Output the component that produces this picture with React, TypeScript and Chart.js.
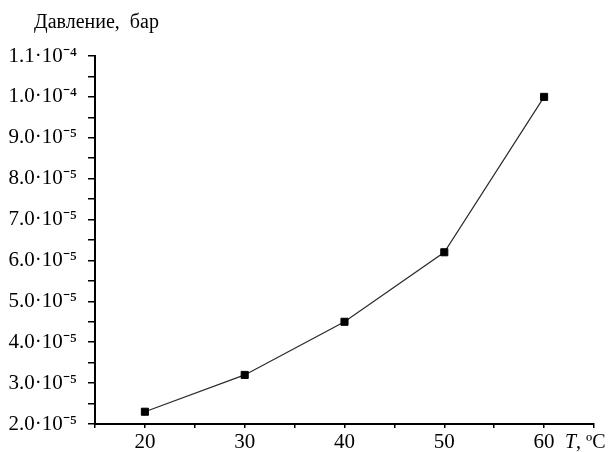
import React, { useEffect, useRef } from "react";
import { Chart, registerables } from "chart.js";

Chart.register(...registerables);

// Data
const temperatures = [20, 30, 40, 50, 60];
const pressures = [2.3e-5, 3.2e-5, 4.5e-5, 6.2e-5, 1.0e-4];

// Axis settings
const xMin = 15;
const xMax = 65;
const xStep = 5;
const xMajorStep = 10;
const yMin = 2e-5;
const yMax = 1.1e-4;
const yStep = 5e-6;
const yMajorStep = 1e-5;
const yTickLabels = [
  "2.0·10⁻⁵",
  "3.0·10⁻⁵",
  "4.0·10⁻⁵",
  "5.0·10⁻⁵",
  "6.0·10⁻⁵",
  "7.0·10⁻⁵",
  "8.0·10⁻⁵",
  "9.0·10⁻⁵",
  "1.0·10⁻⁴",
  "1.1·10⁻⁴",
];
const yAxisTitle = "Давление,  бар";
const xAxisTitleItalic = "T";
const xAxisTitleRest = ", ºC";

const FONT = '"Liberation Serif", "Times New Roman", serif';

const axisTextPlugin = {
  id: "axisText",
  afterDraw(chart: any) {
    const { ctx } = chart;
    const x = chart.scales.x;
    ctx.save();
    ctx.fillStyle = "#000";
    ctx.textBaseline = "alphabetic";
    ctx.textAlign = "left";
    ctx.font = `20px ${FONT}`;
    ctx.fillText(yAxisTitle, 34, 28);
    const baseY = x.top + 24;
    let tx = x.right - 29;
    ctx.font = `italic 20px ${FONT}`;
    ctx.fillText(xAxisTitleItalic, tx, baseY);
    tx += ctx.measureText(xAxisTitleItalic).width;
    ctx.font = `20px ${FONT}`;
    ctx.fillText(xAxisTitleRest, tx, baseY);
    ctx.restore();
  },
};

export default function App() {
  const canvasRef = useRef<HTMLCanvasElement | null>(null);

  useEffect(() => {
    const canvas = canvasRef.current;
    if (!canvas) return;
    const chart = new Chart(canvas, {
      type: "scatter",
      data: {
        datasets: [
          {
            data: temperatures.map((t, i) => ({ x: t, y: pressures[i] })),
            showLine: true,
            borderColor: "#2a2a2a",
            borderWidth: 1.2,
            pointStyle: "rect",
            pointRadius: 5,
            pointBackgroundColor: "#000",
            pointBorderColor: "#000",
            pointBorderWidth: 1,
            tension: 0,
          },
        ],
      },
      options: {
        animation: false,
        responsive: false,
        layout: { padding: { left: 0, top: 56, right: 20, bottom: 0 } },
        plugins: {
          legend: { display: false },
          title: { display: false },
          tooltip: { enabled: false },
        },
        scales: {
          x: {
            type: "linear",
            min: xMin,
            max: xMax,
            afterFit: (scale: any) => {
              scale.height = 28;
            },
            border: { display: true, color: "#000", width: 2 },
            grid: {
              drawOnChartArea: false,
              drawTicks: true,
              tickLength: 4,
              color: "#000",
              lineWidth: 1.5,
            },
            ticks: {
              stepSize: xStep,
              autoSkip: false,
              maxRotation: 0,
              padding: 2,
              color: "#000",
              font: { family: FONT, size: 21 },
              callback: (v: any) => {
                const val = Number(v);
                if (val === xMin) return "";
                return Math.abs(val % xMajorStep) < 1e-9 ? String(val) : "";
              },
            },
          },
          y: {
            type: "linear",
            min: yMin,
            max: yMax,
            afterFit: (scale: any) => {
              scale.width = 95;
            },
            border: { display: true, color: "#000", width: 2 },
            grid: {
              drawOnChartArea: false,
              drawTicks: true,
              tickLength: 7,
              color: "#000",
              lineWidth: 1.5,
            },
            ticks: {
              stepSize: yStep,
              autoSkip: false,
              padding: 11,
              color: "#000",
              font: { family: FONT, size: 21 },
              callback: (v: any) => {
                const r = (Number(v) - yMin) / yMajorStep;
                const i = Math.round(r);
                if (Math.abs(r - i) < 1e-6 && i >= 0 && i < yTickLabels.length) {
                  return yTickLabels[i];
                }
                return "";
              },
            },
          },
        },
      },
      plugins: [axisTextPlugin],
    });
    return () => chart.destroy();
  }, []);

  return (
    <div
      style={{
        position: "fixed",
        left: 0,
        top: 0,
        width: 614,
        height: 452,
        background: "#fff",
      }}
    >
      <canvas ref={canvasRef} width={614} height={452} />
    </div>
  );
}
